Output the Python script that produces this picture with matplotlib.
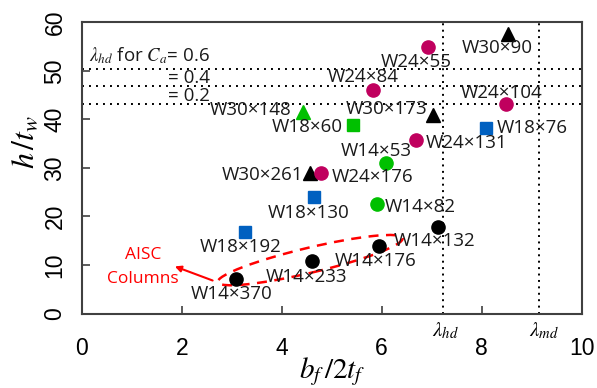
import numpy as np
import matplotlib.pyplot as plt
from matplotlib.patches import Ellipse
from matplotlib.transforms import ScaledTranslation

plt.rcParams['mathtext.fontset'] = 'stix'

# section data: b_f/2t_f and h/t_w
sections = ['W30×90', 'W24×55', 'W24×84', 'W24×104', 'W30×148', 'W30×173',
            'W18×60', 'W18×76', 'W24×131', 'W14×53', 'W30×261', 'W24×176',
            'W18×130', 'W14×82', 'W18×192', 'W14×132', 'W14×176', 'W14×233',
            'W14×370']
bf2tf = [8.53, 6.93, 5.83, 8.49, 4.43, 7.03, 5.43, 8.09, 6.69, 6.09, 4.57,
         4.79, 4.65, 5.91, 3.27, 7.13, 5.95, 4.61, 3.09]
htw = [57.6, 54.9, 46.1, 43.2, 41.5, 40.9, 38.9, 38.2, 35.8, 31.0, 28.9,
       28.9, 24.0, 22.6, 16.8, 17.8, 13.9, 10.8, 7.1]
kind = ['k^', 'mo', 'mo', 'mo', 'g^', 'k^', 'gs', 'bs', 'mo', 'go', 'k^',
        'mo', 'bs', 'go', 'bs', 'ko', 'ko', 'ko', 'ko']

# limits
lam_hd = 7.22
lam_md = 9.15
web_limits = [50.45, 46.8, 43.2]
ca_labels = [r'$\lambda_{hd}$ for $C_a$= 0.6', '= 0.4', '= 0.2']

# label offsets in pixels (dx, dy), label centre relative to marker
offsets = [(-11, -14), (-12, -15), (-10, 13), (-5, 11), (-53, 2), (-47, 6),
           (-46, -2), (46, 0), (50, -3), (-10, 12), (-48, -2), (51, -4),
           (-6, -16), (43, -3), (-5, -15), (-4, -14), (-4, -15), (-6, -16),
           (-5, -15)]

colors = {'k': 'black', 'm': '#C0005E', 'g': '#00C000', 'b': '#0060C0'}

fig = plt.figure(figsize=(5.97, 3.88), dpi=100)
ax = fig.add_axes([0.1369, 0.192, 0.8375, 0.7505])

for xv in [lam_hd, lam_md]:
    ax.axvline(xv, color='black', lw=1.4, ls=(0, (1, 2.3)), zorder=1)
for yv in web_limits:
    ax.axhline(yv, color='black', lw=1.4, ls=(0, (1, 2.6)), zorder=1)

for i in range(len(sections)):
    c = colors[kind[i][0]]
    m = kind[i][1]
    ax.plot(bf2tf[i], htw[i], marker=m, color=c, ms=9.5 if m != 's' else 9,
            ls='none', zorder=3)
    dx, dy = offsets[i]
    ax.annotate(sections[i], (bf2tf[i], htw[i]), xytext=(dx * 0.72, dy * 0.72),
                textcoords='offset points', ha='center', va='center',
                fontsize=13.5, family='Open Sans', color='#1a1a1a', zorder=4)

ly = [53.1, 48.6, 44.8]
for t, yy in zip(ca_labels, ly):
    ax.text(2.57, yy, t, ha='right', va='center', fontsize=13.5,
            family='Open Sans', color='#1a1a1a')

for xv, t in [(lam_hd, r'$\lambda_{hd}$'), (lam_md, r'$\lambda_{md}$')]:
    ax.annotate(t, (xv, 0), xytext=(-7.5, -12), textcoords='offset points',
                ha='left', va='center', fontsize=15, annotation_clip=False)

# AISC columns region
ell = Ellipse((0, 0), 1.90, 0.25, angle=13.4, fill=False, ec='red', lw=1.8,
              ls=(0, (4, 3)),
              transform=fig.dpi_scale_trans + ScaledTranslation(4.57, 11.0, ax.transData))
ax.add_patch(ell)
ax.annotate('', xy=(1.81, 9.9), xytext=(2.67, 6.6),
            arrowprops=dict(arrowstyle='-|>', color='red', lw=1.5, mutation_scale=9))
ax.text(1.23, 12.1, 'AISC', color='red', ha='center', va='center',
        fontsize=12.5, family='Open Sans')
ax.text(1.23, 7.1, 'Columns', color='red', ha='center', va='center',
        fontsize=12.5, family='Open Sans')

ax.set_xlim(0, 10)
ax.set_ylim(0, 60)
ax.set_xticks([0, 2, 4, 6, 8, 10])
ax.set_yticks([0, 10, 20, 30, 40, 50, 60])
ax.tick_params(direction='in', length=6, width=1.2, color='#404040',
               labelsize=16.5)
ax.tick_params(axis='x', pad=17)
ax.tick_params(axis='y', pad=11)
for lab in ax.get_xticklabels() + ax.get_yticklabels():
    lab.set_family('Liberation Sans')
for lab in ax.get_yticklabels():
    lab.set_rotation(90)
    lab.set_va('center')
for s in ax.spines.values():
    s.set_color('#404040')
    s.set_linewidth(1.5)

ax.text(0.5, -0.2, r'$b_f\,/2t_f$', transform=ax.transAxes, ha='center',
        va='center', fontsize=21)
ax.text(-0.113, 0.59, r'$h\,/t_w$', transform=ax.transAxes, ha='center',
        va='center', fontsize=23, rotation=90)

fig.savefig('out.png', dpi=100)
